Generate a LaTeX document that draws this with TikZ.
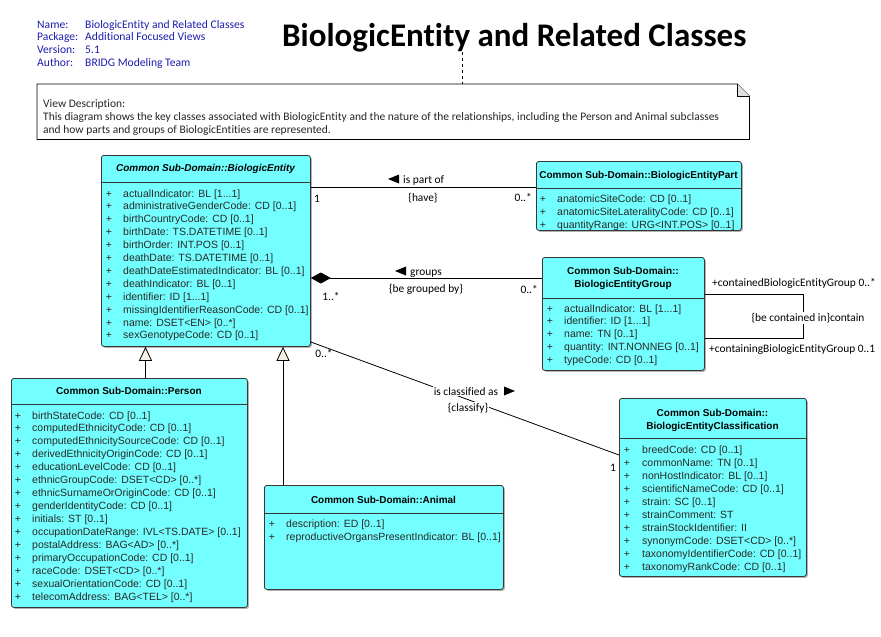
\documentclass[tikz,border=0pt]{standalone}
\usepackage{fontspec}
\setmainfont{Liberation Sans}
\newfontfamily\calfont[Ligatures={NoCommon}]{Carlito}
\usetikzlibrary{arrows.meta,shadows}
\definecolor{clsfill}{RGB}{115,255,255}
\definecolor{clsdraw}{RGB}{55,55,55}
\definecolor{hdrblue}{RGB}{30,30,175}
\definecolor{genfill}{RGB}{245,240,228}
\definecolor{attrcol}{RGB}{40,40,40}
\newcommand\tdots{...}
\newcommand\attrlist[6]{%
  \foreach \t [count=\i] in {#6} {%
    \node[plusn] (#1p\i) at (#2,{#4+(\i-1)*#5+4}) {+};
    \node[attrn] (#1a\i) at (#3,{#4+(\i-1)*#5+4}) {\t};
  }}
\begin{document}
\begin{tikzpicture}[x=1pt,y=-1pt,
  classbox/.style={draw=clsdraw, fill=clsfill, rounded corners=2.5pt, anchor=north west,
    inner sep=0pt, line width=0.8pt,
    drop shadow={shadow xshift=1.5pt, shadow yshift=-1.5pt, opacity=0.3, fill=black}},
  sepline/.style={draw=clsdraw, line width=0.8pt},
  clstitle/.style={inner sep=0pt, align=center, font=\fontsize{10}{13}\selectfont\bfseries},
  attrn/.style={anchor=base west, inner sep=0pt, font=\fontsize{10.5}{12}\selectfont, text=attrcol},
  plusn/.style={anchor=base, inner sep=0pt, font=\fontsize{10.5}{12}\selectfont, text=attrcol},
  hdr/.style={anchor=base west, inner sep=0pt, text=hdrblue, font=\calfont\fontsize{11.6}{13}\selectfont},
  lbl/.style={anchor=base, inner sep=1pt, font=\calfont\fontsize{11.4}{13}\selectfont},
  lblw/.style={lbl, fill=white},
  notetxt/.style={anchor=base west, inner sep=0pt, font=\calfont\fontsize{11.5}{13}\selectfont, text=black!85},
  conn/.style={draw=black, line width=0.8pt},
  gen/.style={conn, -{Triangle[length=14pt,width=13pt,fill=genfill]}},
  comp/.style={conn, -{Diamond[length=20pt,width=11pt]}},
  navtri/.style={fill=black}
]
\useasboundingbox (0,0) rectangle (881,637);
\fill[white] (0,0) rectangle (881,637);

% header block
\node[hdr] (hn1) at (37,28) {Name:};
\node[hdr] (hn2) at (37,40.7) {Package:};
\node[hdr] (hn3) at (37,53.3) {Version:};
\node[hdr] (hn4) at (37,66) {Author:};
\node[hdr] (hv1) at (85,28) {BiologicEntity and Related Classes};
\node[hdr] (hv2) at (85,40.7) {Additional Focused Views};
\node[hdr] (hv3) at (85,53.3) {5.1};
\node[hdr] (hv4) at (85,66) {BRIDG Modeling Team};

% title
\node[anchor=base west, inner sep=0pt, font=\calfont\bfseries\fontsize{33}{36}\selectfont] (title) at (282,46) {BiologicEntity and Related Classes};

% note
\node[anchor=north west, minimum width=712pt, minimum height=55pt, inner sep=0pt] (note) at (37,84) {};
\draw[line width=0.8pt, fill=white] (note.north west) -- ([xshift=-12pt]note.north east) -- ([yshift=-12pt]note.north east) -- (note.south east) -- (note.south west) -- cycle;
\draw[line width=0.6pt, fill=black!12] ([xshift=-12pt]note.north east) -- ([xshift=-12pt,yshift=-12pt]note.north east) -- ([yshift=-12pt]note.north east);
\draw[line width=0.6pt, dashed] (title.south -| 462,0) -- (note.north -| 462,0);
\node[notetxt] (nt1) at (43,107) {View Description:};
\node[notetxt] (nt2) at (43,120) {This diagram shows the key classes associated with BiologicEntity and the nature of the relationships, including the Person and Animal subclasses};
\node[notetxt] (nt3) at (43,133) {and how parts and groups of BiologicEntities are represented.};

% ---------- classes ----------
% BiologicEntity
\node[classbox, minimum width=209pt, minimum height=191pt] (be) at (101,155) {};
\draw[sepline] (be.west |- 0,182) -- (be.east |- 0,182);
\node[clstitle] (bet) at (205.5,169) {\itshape Common Sub-Domain::BiologicEntity};
\attrlist{be}{109}{123}{193}{12.9}{actualIndicator: BL [1\tdots1],administrativeGenderCode: CD [0..1],birthCountryCode: CD [0..1],birthDate: TS.DATETIME [0..1],birthOrder: INT.POS [0..1],deathDate: TS.DATETIME [0..1],deathDateEstimatedIndicator: BL [0..1],deathIndicator: BL [0..1],identifier: ID [1\tdots1],missingIdentifierReasonCode: CD [0..1],name: DSET<EN> [0..*],sexGenotypeCode: CD [0..1]}

% BiologicEntityPart
\node[classbox, minimum width=205pt, minimum height=69pt] (part) at (536,161) {};
\draw[sepline] (part.west |- 0,188) -- (part.east |- 0,188);
\node[clstitle] (partt) at (638.5,176) {Common Sub-Domain::BiologicEntityPart};
\attrlist{pa}{543}{557}{198}{13}{anatomicSiteCode: CD [0..1],anatomicSiteLateralityCode: CD [0..1],quantityRange: URG<INT.POS> [0..1]}

% BiologicEntityGroup
\node[classbox, minimum width=162pt, minimum height=113pt] (grp) at (542,257) {};
\draw[sepline] (grp.west |- 0,298) -- (grp.east |- 0,298);
\node[clstitle] (grpt) at (623,278.5) {Common Sub-Domain::\\BiologicEntityGroup};
\attrlist{gr}{550}{564}{308}{12.75}{actualIndicator: BL [1\tdots1],identifier: ID [1\tdots1],name: TN [0..1],quantity: INT.NONNEG [0..1],typeCode: CD [0..1]}

% Person
\node[classbox, minimum width=236pt, minimum height=229pt] (per) at (11,378) {};
\draw[sepline] (per.west |- 0,404) -- (per.east |- 0,404);
\node[clstitle] (pert) at (129,391) {Common Sub-Domain::Person};
\attrlist{pe}{18}{32}{415}{12.93}{birthStateCode: CD [0..1],computedEthnicityCode: CD [0..1],computedEthnicitySourceCode: CD [0..1],derivedEthnicityOriginCode: CD [0..1],educationLevelCode: CD [0..1],ethnicGroupCode: DSET<CD> [0..*],ethnicSurnameOrOriginCode: CD [0..1],genderIdentityCode: CD [0..1],initials: ST [0..1],occupationDateRange: IVL<TS.DATE> [0..1],postalAddress: BAG<AD> [0..*],primaryOccupationCode: CD [0..1],raceCode: DSET<CD> [0..*],sexualOrientationCode: CD [0..1],telecomAddress: BAG<TEL> [0..*]}

% Animal
\node[classbox, minimum width=239pt, minimum height=104pt] (ani) at (264,485) {};
\draw[sepline] (ani.west |- 0,513) -- (ani.east |- 0,513);
\node[clstitle] (anit) at (383.5,500) {Common Sub-Domain::Animal};
\attrlist{an}{272}{286}{523}{13}{description: ED [0..1],reproductiveOrgansPresentIndicator: BL [0..1]}

% BiologicEntityClassification
\node[classbox, minimum width=187pt, minimum height=178pt] (cls) at (619,398) {};
\draw[sepline] (cls.west |- 0,438) -- (cls.east |- 0,438);
\node[clstitle] (clst) at (712.5,420) {Common Sub-Domain::\\BiologicEntityClassification};
\attrlist{cl}{627}{642}{449}{13}{breedCode: CD [0..1],commonName: TN [0..1],nonHostIndicator: BL [0..1],scientificNameCode: CD [0..1],strain: SC [0..1],strainComment: ST,strainStockIdentifier: II,synonymCode: DSET<CD> [0..*],taxonomyIdentifierCode: CD [0..1],taxonomyRankCode: CD [0..1]}

% ---------- connectors ----------
% generalizations
\draw[gen] (per.north -| 145.5,0) -- (be.south -| 145.5,0);
\draw[gen] (ani.north -| 283,0) -- (be.south -| 283,0);

% is part of
\draw[conn] (be.east |- 0,187) -- (part.west |- 0,187);
\fill[navtri] (388,179) -- (399,174.5) -- (399,183.5) -- cycle;
\node[lbl, anchor=base west] (l1) at (402,183) {is part of};
\node[lbl] (l2) at (423,201) {\{have\}};
\node[lbl] (m1) at (317,202) {1};
\node[lbl, anchor=base east] (m2) at (533,201) {0..*};

% groups (composition)
\draw[comp] (grp.west |- 0,278) -- (be.east |- 0,278);
\fill[navtri] (395,271) -- (406,266.5) -- (406,275.5) -- cycle;
\node[lbl, anchor=base west] (l3) at (409,275) {groups};
\node[lbl] (l4) at (426,292) {\{be grouped by\}};
\node[lbl] (m3) at (331,300) {1..*};
\node[lbl, anchor=base east] (m4) at (539,293) {0..*};

% self association on group
\coordinate (sa1) at (803,294);
\coordinate (sa2) at (803,338);
\draw[conn] (grp.east |- sa1) -- (sa1) -- (sa2) -- (grp.east |- sa2);
\node[lblw] (l5) at (808,321) {\{be contained in\}contain};
\node[lbl, anchor=base west] (m5) at (711,286) {+containedBiologicEntityGroup 0..*};
\node[lbl, anchor=base west] (m6) at (708,352) {+containingBiologicEntityGroup 0..1};

% is classified as
\draw[conn] (be.east |- 0,342) -- (cls.west |- 0,455);
\node[lblw] (l6) at (466,395) {is classified as\rule{0pt}{1pt}\hspace{17pt}};
\fill[navtri] (515,391) -- (504,386.5) -- (504,395.5) -- cycle;
\node[lblw] (l7) at (468,411) {\{classify\}};
\node[lbl] (m7) at (324,357) {0..*};
\node[lbl] (m8) at (613,471) {1};
\end{tikzpicture}
\end{document}
